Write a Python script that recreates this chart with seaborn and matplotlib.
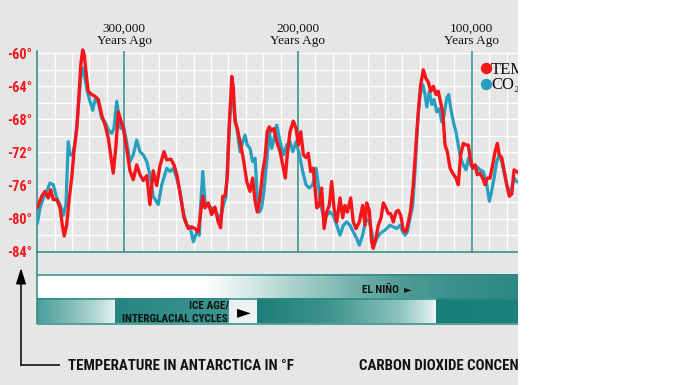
import numpy as np
import pandas as pd
import matplotlib
matplotlib.use("Agg")
import matplotlib.pyplot as plt
import seaborn as sns
from matplotlib import font_manager as fm
from matplotlib.transforms import Affine2D
from matplotlib.lines import Line2D
from matplotlib.patches import Rectangle, FancyArrowPatch

# ---------------- data ----------------
temp_kya = [350.0, 347.5, 345.6, 343.7, 342.3, 340.8, 338.8, 336.9, 335.6, 334.5,
            333.1, 331.6, 330.2, 328.9, 327.3, 326.0, 325.0, 323.9, 323.0, 321.6,
            320.7, 318.7, 316.8, 314.9, 312.9, 311.0, 309.1, 307.8, 306.3, 304.7,
            303.4, 302.0, 300.5, 298.6, 296.7, 294.8, 292.8, 290.9, 289.0, 287.0,
            285.2, 283.3, 281.3, 279.4, 277.1, 275.5, 273.2, 271.3, 269.4, 267.5,
            265.6, 263.1, 261.2, 259.3, 257.4, 256.0, 254.8, 253.5, 251.6, 249.7,
            247.8, 245.9, 244.5, 243.3, 242.0, 240.7, 239.5, 238.1, 237.2, 236.2,
            234.9, 233.4, 231.5, 229.5, 227.6, 226.1, 224.7, 223.4, 221.9, 220.3,
            219.0, 217.7, 216.5, 215.1, 213.8, 212.2, 210.3, 208.4, 207.3, 206.2,
            204.6, 202.7, 201.1, 199.8, 198.4, 196.9, 195.4, 194.1, 192.7, 191.2,
            189.2, 187.7, 186.4, 185.0, 183.5, 182.0, 180.6, 179.3, 177.7, 175.8,
            174.3, 173.0, 171.6, 169.7, 168.2, 166.6, 164.7, 162.8, 161.4, 160.5,
            159.0, 157.6, 156.7, 155.1, 153.8, 152.2, 150.9, 149.4, 148.0, 146.7,
            145.2, 143.6, 142.3, 140.9, 139.4, 137.9, 136.5, 135.2, 133.7, 132.1,
            130.8, 129.4, 127.9, 126.5, 125.0, 123.6, 122.1, 120.6, 119.3, 117.9,
            116.7, 115.4, 114.1, 112.5, 111.0, 109.1, 107.8, 106.4, 104.9, 103.3,
            102.0, 101.0, 99.5, 98.1, 96.8, 95.3, 93.7, 92.4, 91.1, 89.5,
            88.0, 86.6, 85.3, 84.2, 82.8, 81.5, 79.9, 78.4, 77.0, 75.7,
            74.2, 73.1]
temp_f = [-78.7, -77.3, -76.7, -77.5, -76.5, -77.7, -77.7, -78.7, -80.8, -82.1,
          -80.8, -77.5, -75.1, -71.9, -69.1, -65.0, -61.4, -59.6, -60.2, -63.0,
          -64.6, -65.0, -65.2, -65.6, -67.5, -68.7, -70.3, -72.3, -74.5, -71.1,
          -67.1, -68.1, -69.1, -71.5, -74.2, -75.3, -73.5, -74.7, -75.4, -74.8,
          -78.3, -74.2, -76.0, -73.6, -71.9, -72.9, -72.8, -73.5, -75.0, -77.4,
          -79.9, -81.2, -81.0, -81.2, -81.6, -79.2, -77.3, -78.7, -78.1, -79.5,
          -78.6, -80.4, -81.1, -77.3, -77.3, -75.1, -68.5, -62.8, -64.2, -68.3,
          -69.1, -70.7, -72.7, -75.5, -76.7, -75.1, -77.9, -79.2, -77.5, -74.3,
          -72.7, -69.5, -68.9, -69.4, -69.1, -70.7, -71.9, -73.9, -75.1, -72.3,
          -69.5, -68.2, -69.1, -71.1, -69.5, -72.3, -72.6, -72.1, -74.3, -73.9,
          -78.7, -78.4, -76.3, -81.2, -79.2, -78.4, -75.5, -78.7, -80.4, -77.5,
          -79.9, -78.4, -79.2, -77.5, -80.4, -81.2, -80.4, -78.4, -80.8, -78.1,
          -79.0, -82.8, -83.6, -82.3, -80.8, -79.9, -78.1, -78.7, -79.4, -79.4,
          -80.4, -79.2, -79.0, -79.6, -81.4, -81.6, -80.4, -79.0, -75.9, -71.1,
          -67.1, -63.8, -62.0, -63.0, -63.5, -64.6, -64.0, -65.0, -64.6, -66.0,
          -67.1, -71.1, -71.9, -73.9, -74.5, -75.1, -75.9, -72.3, -70.9, -71.1,
          -71.1, -72.6, -73.9, -73.5, -74.7, -74.5, -75.1, -75.9, -75.1, -75.1,
          -73.5, -71.9, -70.9, -72.3, -72.6, -74.1, -75.9, -77.3, -77.0, -74.1,
          -74.3, -74.5]

co2_kya = [350.0, 348.4, 346.5, 344.6, 342.7, 340.8, 338.8, 336.9, 335.0, 333.5,
           332.2, 331.2, 329.6, 328.3, 327.0, 325.4, 324.5, 323.5, 322.6, 321.2,
           319.7, 318.1, 316.8, 314.9, 312.9, 311.0, 309.1, 307.2, 305.9, 304.3,
           303.4, 302.0, 300.5, 298.6, 296.7, 294.8, 292.8, 290.9, 289.0, 287.0,
           285.2, 283.3, 280.4, 278.4, 275.5, 273.6, 271.7, 269.8, 267.9, 266.0,
           264.0, 262.1, 260.2, 258.3, 256.8, 256.0, 254.8, 253.5, 251.6, 249.7,
           247.8, 245.9, 244.5, 243.0, 241.4, 240.1, 238.7, 237.6, 236.2, 234.9,
           233.4, 231.8, 230.5, 229.2, 227.6, 226.1, 224.7, 223.4, 222.3, 220.9,
           219.6, 218.0, 216.5, 215.1, 213.8, 212.2, 210.3, 208.4, 206.5, 204.6,
           203.0, 201.1, 199.2, 197.3, 195.4, 193.5, 191.5, 189.6, 188.3, 186.9,
           185.4, 183.5, 181.6, 179.7, 177.7, 175.8, 173.9, 172.0, 170.1, 168.2,
           166.2, 164.7, 162.8, 160.9, 159.0, 157.6, 156.3, 154.7, 152.8, 150.0,
           147.1, 145.2, 143.2, 141.3, 139.7, 138.4, 137.1, 135.6, 134.0, 132.7,
           131.4, 129.8, 128.2, 126.9, 125.9, 124.4, 123.0, 121.7, 120.2, 118.7,
           117.3, 116.0, 114.4, 113.3, 112.1, 110.6, 109.1, 107.8, 106.4, 104.9,
           103.3, 102.0, 100.6, 99.1, 97.2, 95.3, 93.4, 91.4, 89.9, 88.6,
           87.2, 85.7, 84.2, 82.8, 81.5, 79.9, 78.4, 77.0, 75.7, 74.2,
           73.1]
co2_ppm = [197, 206.5, 212.5, 216.5, 221.5, 220.5, 212.5, 208.5, 202, 208.5,
           246.5, 238.5, 238.5, 246.5, 258.5, 281, 289, 291, 285, 277,
           271, 265.5, 272, 270, 260.5, 258.5, 253.5, 251.5, 254.5, 271,
           264.5, 254.5, 256.5, 246.5, 234.5, 238.5, 247.5, 240.5, 238.5, 234.5,
           226.5, 213.5, 208.5, 220.5, 230.5, 228.5, 230.5, 224.5, 216.5, 204,
           196, 195, 186, 192, 190, 208, 228.5, 209.5, 208, 206.5,
           204, 202, 200, 208, 213.5, 244.5, 271, 273, 260.5, 252.5,
           240.5, 246.5, 250.5, 244.5, 242.5, 234.5, 236.5, 213.5, 204, 206.5,
           216.5, 234.5, 252.5, 242.5, 248.5, 256.5, 246.5, 238.5, 244.5, 246.5,
           240.5, 246.5, 238.5, 228.5, 220.5, 218.5, 220.5, 230.5, 220.5, 208,
           202, 202, 204, 202, 196, 190, 196, 198, 196, 192,
           188, 184, 190, 200, 198, 192, 184, 188, 191, 193,
           196, 195, 194, 196, 192, 190, 192, 200, 208, 228.5,
           254.5, 275, 281, 275, 267.5, 277, 269, 272, 264.5, 266.5,
           258.5, 262.5, 273, 275, 266.5, 258.5, 252.5, 244.5, 236.5, 232.5,
           229.5, 236.5, 232.5, 230.5, 231.5, 229.5, 228.5, 220.5, 210.5, 216.5,
           224.5, 234.5, 238.5, 234.5, 228.5, 220.5, 216.5, 218.5, 224.5, 222.5,
           222]

year_ticks = [300, 200, 100]
year_labels = ["300,000\nYears Ago", "200,000\nYears Ago", "100,000\nYears Ago"]
temp_ticks = [-84, -80, -76, -72, -68, -64, -60]
temp_labels = ["-84°", "-80°", "-76°", "-72°", "-68°", "-64°", "-60°"]
legend_labels = ["TEMPERATURE", "CO₂"]
band_labels = ["EL NIÑO", "ICE AGE/", "INTERGLACIAL CYCLES", "►"]
footer_labels = ["TEMPERATURE IN ANTARCTICA IN °F", "CARBON DIOXIDE CONCENTRATION"]

# ---------------- fonts ----------------
sns.set_theme(style="white")
_entries = fm.fontManager.ttflist
_names = {f.name for f in _entries}
COND_NAME, COND_STRETCH = None, "normal"
for cand in ["Roboto Condensed", "DejaVu Sans Condensed", "Liberation Sans Narrow",
             "Open Sans Condensed", "Noto Sans Condensed", "Arial Narrow"]:
    if cand in _names:
        COND_NAME = cand
        break
if COND_NAME is None:
    for f in _entries:
        if str(f.stretch) in ("condensed", "semi-condensed", "extra-condensed") and f.name in (
                "DejaVu Sans", "Noto Sans", "Open Sans", "Roboto", "Liberation Sans"):
            COND_NAME, COND_STRETCH = f.name, "condensed"
            break
if COND_NAME is None:
    COND_NAME = "Roboto" if "Roboto" in _names else "Liberation Sans"
COND = [COND_NAME, "DejaVu Sans"]
SERIF = ["Liberation Serif", "DejaVu Serif"]
plt.rcParams["font.family"] = COND

GRAY = "#e6e6e6"
RED = "#f5161b"
CO2C = "#27a0c0"
TEAL = "#2a8a87"

W, H = 680, 385
fig = plt.figure(figsize=(6.8, 3.85), dpi=100)
fig.patch.set_facecolor("white")
pxT = Affine2D().scale(1 / W, -1 / H).translate(0, 1) + fig.transFigure

PANEL_R = 518
AX_L, AX_T, AX_B = 37.3, 48.3, 251.7
T_LO, T_HI = -84, -59.4
X_LEFT = 350
X_RIGHT = X_LEFT - (PANEL_R - AX_L) * 100 / 173.8
PPM0, PPM_PER_DEG = 180, 5

fig.add_artist(Rectangle((0, 0), PANEL_R / W, 1, transform=fig.transFigure,
                         facecolor=GRAY, edgecolor="none", zorder=-10))

# ---------------- bands below the chart ----------------
bg = fig.add_axes([0, 0, PANEL_R / W, 1], zorder=-5)
bg.set_xlim(0, PANEL_R)
bg.set_ylim(H, 0)
bg.axis("off")

xs = np.arange(AX_L, PANEL_R, 0.5)


def gradient(ctrl):
    px = [c[0] for c in ctrl]
    cols = np.array([c[1] for c in ctrl], dtype=float) / 255.0
    return np.stack([np.interp(xs, px, cols[:, i]) for i in range(3)], axis=-1)[None, :, :]


nino = gradient([(37, (255, 255, 255)), (205, (255, 255, 255)), (260, (205, 228, 225)),
                 (300, (165, 205, 200)), (350, (120, 180, 175)), (400, (82, 156, 151)),
                 (450, (60, 145, 140)), (518, (44, 136, 131))])
ice = gradient([(37, (72, 158, 153)), (60, (110, 178, 173)), (90, (165, 208, 204)),
                (115.4, (228, 240, 238)), (115.6, (38, 133, 128)), (229.4, (62, 150, 145)),
                (229.6, (232, 240, 239)), (257.4, (240, 244, 244)), (257.6, (30, 126, 121)),
                (330, (62, 147, 142)), (400, (140, 195, 190)), (432, (222, 237, 235)),
                (436.4, (246, 249, 249)), (436.6, (28, 126, 121)), (518, (30, 128, 123))])
bg.imshow(nino, extent=(AX_L, PANEL_R, 298.3, 274.8), aspect="auto", interpolation="nearest")
bg.imshow(ice, extent=(AX_L, PANEL_R, 323.5, 298.8), aspect="auto", interpolation="nearest")
for yy in (274.5, 298.5, 323.5):
    bg.plot([AX_L, PANEL_R], [yy, yy], color=TEAL, lw=1.1, solid_capstyle="butt")
bg.plot([AX_L, AX_L], [AX_B, 323.5], color=TEAL, lw=1.1, solid_capstyle="butt")

tkw = dict(fontweight="bold", color="#111111", family=COND, fontstretch=COND_STRETCH)
t_nino = bg.text(361.7, 293.3, band_labels[0], fontsize=8, ha="left", va="baseline", **tkw)
bg.text(404, 289.5, "►", fontsize=7, color="#111111", ha="left", va="center", family=["DejaVu Sans"])
t_ice1 = bg.text(229, 308.3, band_labels[1], fontsize=8, ha="right", va="baseline", **tkw)
t_ice2 = bg.text(228, 322.3, band_labels[2], fontsize=8, ha="right", va="baseline", **tkw)
bg.text(243.5, 311.7, band_labels[3], fontsize=13, color="black",
        ha="center", va="center", family=["DejaVu Sans"])

bg.plot([60, 21], [365, 365], color="black", lw=1.1, solid_capstyle="butt")
bg.add_patch(FancyArrowPatch((21, 365.5), (21, 268), arrowstyle="-|>,head_length=0.95,head_width=0.3",
                             mutation_scale=10, color="black", lw=1.1, shrinkA=0, shrinkB=0))
t_foot1 = bg.text(68, 370.5, footer_labels[0], fontsize=11, ha="left", va="baseline", **tkw)
t_foot2 = bg.text(359, 370.5, footer_labels[1], fontsize=11, ha="left", va="baseline", **tkw)

# ---------------- main chart ----------------
rect = [AX_L / W, 1 - AX_B / H, (PANEL_R - AX_L) / W, (AX_B - AX_T) / H]
ax = fig.add_axes(rect, zorder=0)
ax.set_facecolor(GRAY)
axc = fig.add_axes(rect, sharex=ax, zorder=1)
axr = fig.add_axes(rect, sharex=ax, zorder=2)

temp_df = pd.DataFrame({"kya": temp_kya, "temp": temp_f})
co2_df = pd.DataFrame({"kya": co2_kya, "ppm": co2_ppm})
sns.lineplot(data=co2_df, x="kya", y="ppm", ax=axc, color=CO2C, lw=2.3,
             sort=False, estimator=None, solid_joinstyle="round")
sns.lineplot(data=temp_df, x="kya", y="temp", ax=axr, color=RED, lw=2.4,
             sort=False, estimator=None, solid_joinstyle="round")

ax.set_xlim(X_LEFT, X_RIGHT)
ax.set_ylim(T_LO, T_HI)
axr.set_ylim(T_LO, T_HI)
axc.set_ylim(PPM0, PPM0 + PPM_PER_DEG * (T_HI - T_LO))
for a in (axc, axr):
    a.axis("off")

ax.hlines(np.arange(-82, -59, 2), X_LEFT, X_RIGHT, color="white", lw=1.0, zorder=1)
ax.vlines(np.arange(340, 79, -10), T_LO, -60, color="white", lw=1.0, zorder=1)
ax.vlines(year_ticks, T_LO, -59.7, color=TEAL, lw=1.1, zorder=2)

for s in ("top", "right"):
    ax.spines[s].set_visible(False)
for s in ("left", "bottom"):
    ax.spines[s].set_color(TEAL)
    ax.spines[s].set_linewidth(1.1)
ax.spines["left"].set_bounds(T_LO, -59.7)

ax.set_xticks(year_ticks)
ax.set_xticklabels(year_labels, fontfamily=SERIF, fontsize=9.5, linespacing=1.05, color="#111111")
ax.tick_params(axis="x", top=True, bottom=False, labeltop=True, labelbottom=False,
               length=0, pad=1.0)
ax.set_yticks(temp_ticks)
ax.set_yticklabels(temp_labels, color=RED, fontweight="bold", fontsize=9, fontfamily=COND,
                   fontstretch=COND_STRETCH)
ax.tick_params(axis="y", length=0, pad=3.5)
ax.set_xlabel("")
ax.set_ylabel("")

for (yc, col, lab, yb) in ((68, RED, legend_labels[0], 73.5), (84, CO2C, legend_labels[1], 89.5)):
    fig.add_artist(Line2D([485.5], [yc], transform=pxT, marker="o", ms=7.2, ls="none",
                          color=col, zorder=5))
    fig.text(491, yb, lab, transform=pxT, fontsize=12, family=SERIF,
             color="#111111", ha="left", va="baseline", zorder=5)

# ---------------- fit condensed-style text widths to the picture ----------------
fig.canvas.draw()
rend = fig.canvas.get_renderer()


def fit(t, target_px):
    w = t.get_window_extent(rend).width
    t.set_fontsize(t.get_fontsize() * target_px / w)


fit(t_foot1, 225)
t_foot2.set_fontsize(t_foot1.get_fontsize())
fit(t_nino, 37)
fit(t_ice2, 106)
t_ice1.set_fontsize(t_ice2.get_fontsize())
ylab = ax.get_yticklabels()[-1]
yscale = 25.0 / ylab.get_window_extent(rend).width
ax.tick_params(axis="y", labelsize=9 * yscale)

# crop: everything right of the panel is blank
fig.add_artist(Rectangle((PANEL_R / W, 0), 1 - PANEL_R / W, 1, transform=fig.transFigure,
                         facecolor="white", edgecolor="none", zorder=100))

fig.savefig("out.png", dpi=100)
